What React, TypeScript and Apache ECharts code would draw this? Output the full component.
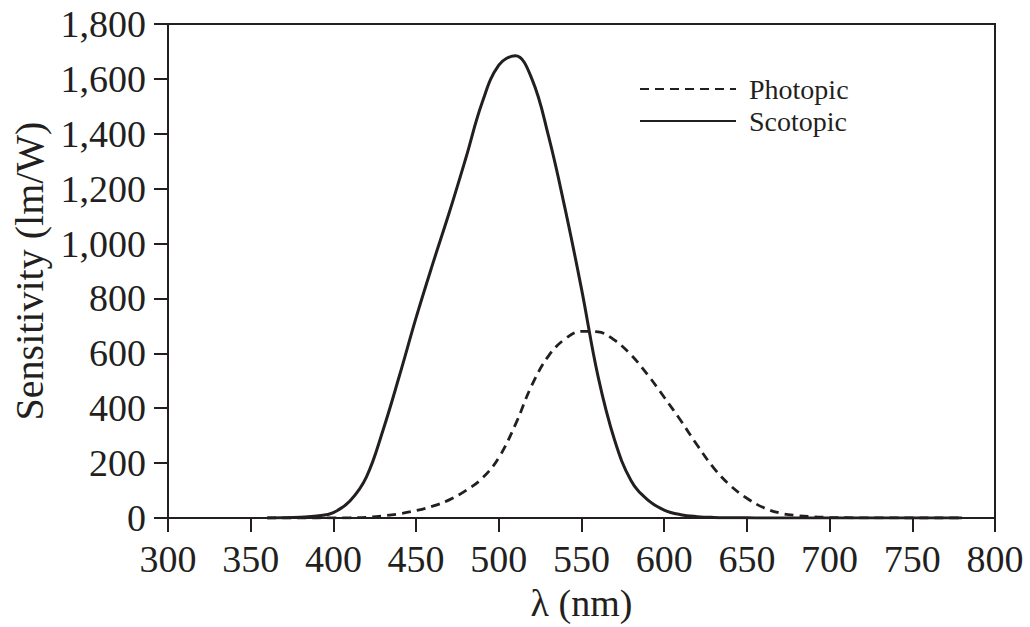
import React, { useEffect, useRef } from "react";
import * as echarts from "echarts";

const wavelengths = [360, 370, 380, 390, 400, 410, 420, 430, 440, 450, 460, 470, 480, 490, 500, 510, 520, 530, 540, 550, 560, 570, 580, 590, 600, 610, 620, 630, 640, 650, 660, 670, 680, 690, 700, 710, 720, 730, 740, 750, 760, 770, 780];

const photopic = [0, 0.01, 0.03, 0.08, 0.27, 0.8, 2.7, 7.9, 15.6, 27, 43, 66, 100, 145, 220, 340, 484, 590, 652, 680, 678, 648, 594, 522, 440, 355, 265, 182, 118, 72, 38, 18, 9, 4.5, 2.2, 1.1, 0.5, 0.25, 0.12, 0.06, 0.03, 0.015, 0.01];

const scotopic = [0, 0.5, 2.5, 7, 20, 62, 150, 320, 520, 730, 925, 1112, 1310, 1515, 1650, 1684, 1600, 1393, 1129, 835, 516, 284, 136, 66, 29, 12, 5, 2, 1, 0.5, 0.2, 0.1, 0, 0, 0, 0, 0, 0, 0, 0, 0, 0, 0];

const seriesNames = ["Photopic", "Scotopic"];
const xTicks = { min: 300, max: 800, interval: 50 };
const yTicks = { min: 0, max: 1800, interval: 200 };

const INK = "#231f20";
const FONT = "Liberation Serif";

export default function App() {
  const ref = useRef<HTMLDivElement>(null);
  useEffect(() => {
    const chart = echarts.init(ref.current!, null, { renderer: "svg" });
    const toPairs = (vals: number[]) => wavelengths.map((w, i) => [w, vals[i]]);
    chart.setOption({
      animation: false,
      backgroundColor: "#ffffff",
      grid: {
        left: 168,
        right: 35,
        top: 24,
        bottom: 104,
        show: true,
        borderColor: INK,
        borderWidth: 2,
        backgroundColor: "transparent",
      },
      legend: {
        data: seriesNames,
        orient: "vertical",
        left: 639,
        top: 73,
        padding: 0,
        itemWidth: 96,
        itemHeight: 14,
        itemGap: 0,
        itemStyle: { color: "transparent", borderWidth: 0, opacity: 0 },
        textStyle: {
          fontFamily: FONT,
          fontSize: 28,
          color: INK,
          lineHeight: 32,
          padding: [0, 0, 0, 8],
        },
      },
      xAxis: {
        type: "value",
        min: xTicks.min,
        max: xTicks.max,
        interval: xTicks.interval,
        name: "λ (nm)",
        nameLocation: "middle",
        nameGap: 66,
        nameTextStyle: { fontFamily: FONT, fontSize: 38, color: INK },
        axisLine: { show: true, lineStyle: { color: INK, width: 2 } },
        axisTick: { show: true, inside: false, length: 14, lineStyle: { color: INK, width: 2 } },
        axisLabel: { fontFamily: FONT, fontSize: 38, color: INK, margin: 22 },
        splitLine: { show: false },
      },
      yAxis: {
        type: "value",
        min: yTicks.min,
        max: yTicks.max,
        interval: yTicks.interval,
        name: "Sensitivity (lm/W)",
        nameLocation: "middle",
        nameGap: 114,
        nameTextStyle: { fontFamily: FONT, fontSize: 40, color: INK },
        axisLine: { show: true, lineStyle: { color: INK, width: 2 } },
        axisTick: { show: true, inside: false, length: 14, lineStyle: { color: INK, width: 2 } },
        axisLabel: {
          fontFamily: FONT,
          fontSize: 38,
          color: INK,
          margin: 22,
          formatter: (v: number) => v.toLocaleString("en-US"),
        },
        splitLine: { show: false },
      },
      series: [
        {
          name: seriesNames[0],
          type: "line",
          data: toPairs(photopic),
          smooth: 0.4,
          symbol: "none",
          lineStyle: { color: INK, width: 2.8, type: [9, 6] },
          itemStyle: { color: INK },
        },
        {
          name: seriesNames[1],
          type: "line",
          data: toPairs(scotopic),
          smooth: 0.4,
          symbol: "none",
          lineStyle: { color: INK, width: 3, type: "solid" },
          itemStyle: { color: INK },
        },
      ],
    });
    return () => chart.dispose();
  }, []);
  return (
    <div
      ref={ref}
      style={{ position: "fixed", left: 0, top: 0, width: 1030, height: 627, background: "#fff" }}
    />
  );
}
